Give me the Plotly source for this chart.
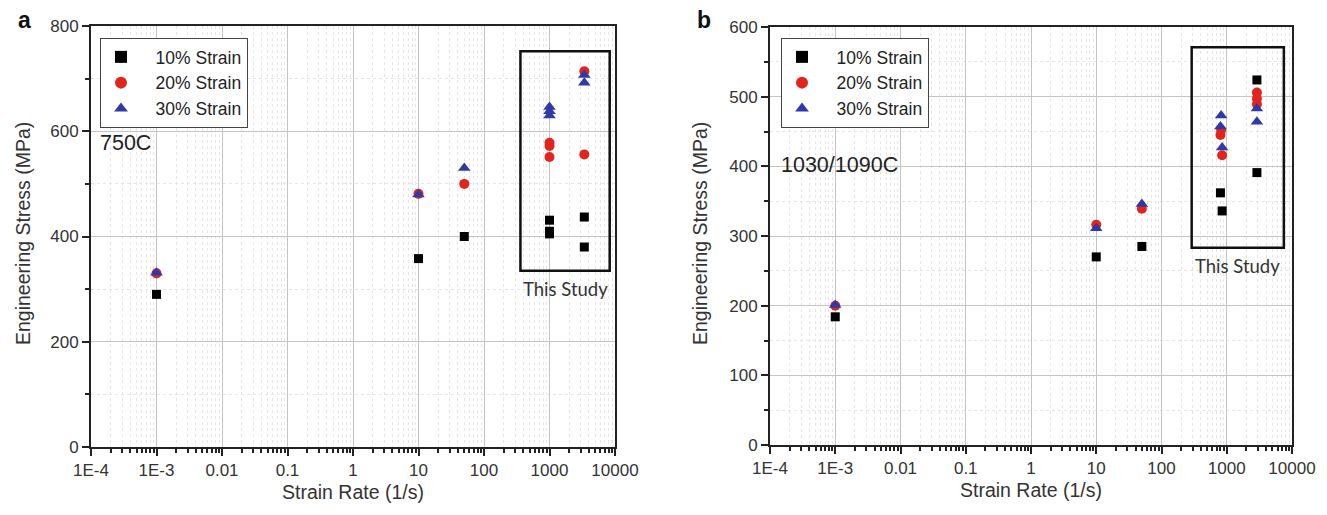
import plotly.graph_objects as go
import math

# ---------------- data ----------------
# Panel a (750C)
a_rate_10 = [1e-3, 10, 50, 1000, 1000, 1000, 3400, 3400]
a_stress_10 = [290, 358, 400, 431, 410, 405, 437, 380]
a_rate_20 = [1e-3, 10, 50, 1000, 1000, 1000, 3400, 3400]
a_stress_20 = [330, 481, 500, 578, 572, 551, 714, 556]
a_rate_30 = [1e-3, 10, 50, 1000, 1000, 1000, 3400, 3400]
a_stress_30 = [331, 480, 530, 646, 638, 630, 707, 692]

# Panel b (1030/1090C)
b_rate_10 = [1e-3, 10, 50, 800, 850, 2900, 2900]
b_stress_10 = [184, 270, 285, 362, 336, 524, 391]
b_rate_20 = [1e-3, 10, 50, 820, 800, 850, 2900, 2900, 2900]
b_stress_20 = [200, 316, 339, 452, 445, 416, 506, 497, 489]
b_rate_30 = [1e-3, 10, 50, 820, 800, 850, 2900, 2900]
b_stress_30 = [201, 311, 346, 473, 457, 427, 483, 464]

tick_vals = [1e-4, 1e-3, 0.01, 0.1, 1, 10, 100, 1000, 10000]
tick_text = ["1E-4", "1E-3", "0.01", "0.1", "1", "10", "100", "1000", "10000"]

series_names = ["10% Strain", "20% Strain", "30% Strain"]
colors = ["#000000", "#e3241d", "#2f3aa8"]
symbols = ["square", "circle", "triangle-up"]
sizes = [9, 10, 11]

FONT = "Liberation Sans, Arial, sans-serif"
NB = "\u00a0\u00a0\u00a0"

fig = go.Figure()

panels = [
    ("x", "y", [(a_rate_10, a_stress_10), (a_rate_20, a_stress_20), (a_rate_30, a_stress_30)], "legend"),
    ("x2", "y2", [(b_rate_10, b_stress_10), (b_rate_20, b_stress_20), (b_rate_30, b_stress_30)], "legend2"),
]
for xa, ya, series, leg in panels:
    for i, (xs, ys) in enumerate(series):
        fig.add_trace(go.Scatter(
            x=xs, y=ys, mode="markers", name=NB + series_names[i],
            xaxis=xa, yaxis=ya, legend=leg,
            marker=dict(symbol=symbols[i], color=colors[i], size=sizes[i], line=dict(width=0)),
        ))

W, H = 1327, 515
def fx(p): return p / W
def fy(p): return 1 - p / H

def xaxis_cfg(x0, x1, anchor):
    return dict(
        type="log", range=[-4, 4], domain=[fx(x0), fx(x1)], anchor=anchor,
        automargin=False,
        tickvals=tick_vals, ticktext=tick_text,
        ticks="outside", ticklen=7, tickwidth=1.5, tickcolor="#222",
        showline=True, linecolor="#222", linewidth=2, mirror=True,
        showgrid=True, gridcolor="#c4c4c4", gridwidth=1,
        minor=dict(dtick="D1", ticks="outside", ticklen=4, tickcolor="#222",
                   showgrid=True, gridcolor="#e6e6e6", griddash="dot"),
        tickfont=dict(family=FONT, size=17, color="#333"),
        title=dict(text="Strain Rate (1/s)", font=dict(family=FONT, size=19.5, color="#333"), standoff=6),
        zeroline=False,
    )

def yaxis_cfg(y0, y1, anchor, rng, dt):
    return dict(
        range=rng, domain=[fy(y1), fy(y0)], anchor=anchor,
        automargin=False,
        dtick=dt, tick0=0,
        ticks="outside", ticklen=7, tickwidth=1.5, tickcolor="#222",
        showline=True, linecolor="#222", linewidth=2, mirror=True,
        showgrid=True, gridcolor="#c4c4c4", gridwidth=1,
        minor=dict(dtick=dt / 2, ticks="outside", ticklen=4, tickcolor="#222",
                   showgrid=True, gridcolor="#e6e6e6", griddash="dot"),
        tickfont=dict(family=FONT, size=17, color="#333"),
        zeroline=False,
    )

legend_style = dict(
    bgcolor="white", bordercolor="#444", borderwidth=1,
    font=dict(family=FONT, size=17.5, color="#222"),
    xanchor="left", yanchor="top", tracegroupgap=0, itemsizing="constant",
)

fig.update_layout(
    width=W, height=H,
    margin=dict(l=0, r=0, t=0, b=0, autoexpand=False),
    paper_bgcolor="white", plot_bgcolor="white",
    xaxis=xaxis_cfg(91, 615, "y"),
    yaxis=yaxis_cfg(26, 447, "x", [0, 800], 200),
    xaxis2=xaxis_cfg(770, 1292, "y2"),
    yaxis2=yaxis_cfg(27, 445, "x2", [0, 600], 100),
    legend=dict(x=fx(100), y=fy(38), **legend_style),
    legend2=dict(x=fx(781), y=fy(38), **legend_style),
    showlegend=True,
)

# y-axis titles placed as rotated annotations
ytitle_font = dict(family=FONT, size=19.5, color="#333")
fig.add_annotation(x=fx(23), y=fy(234), xref="paper", yref="paper",
                   text="Engineering Stress (MPa)", textangle=-90, showarrow=False,
                   xanchor="center", yanchor="middle", font=ytitle_font)
fig.add_annotation(x=fx(700), y=fy(234), xref="paper", yref="paper",
                   text="Engineering Stress (MPa)", textangle=-90, showarrow=False,
                   xanchor="center", yanchor="middle", font=ytitle_font)

# "This Study" boxes (shape coordinates are data values on the log axis)
fig.add_shape(type="rect", xref="x", yref="y",
              x0=360, x1=8300, y0=335, y1=752,
              line=dict(color="#111", width=2.5), fillcolor="rgba(0,0,0,0)")
fig.add_shape(type="rect", xref="x2", yref="y2",
              x0=290, x1=7500, y0=283, y1=571,
              line=dict(color="#111", width=2.5), fillcolor="rgba(0,0,0,0)")

ann_font_small = dict(family="Lato, Open Sans, sans-serif", size=18.5, color="#333")
fig.add_annotation(x=math.log10(1750), y=335, xref="x", yref="y", text="This Study",
                   showarrow=False, yanchor="top", yshift=-5, font=ann_font_small)
fig.add_annotation(x=math.log10(1480), y=283, xref="x2", yref="y2", text="This Study",
                   showarrow=False, yanchor="top", yshift=-5, font=ann_font_small)

fig.add_annotation(x=fx(98), y=fy(143), xref="paper", yref="paper", text="750C",
                   showarrow=False, xanchor="left", yanchor="middle",
                   font=dict(family=FONT, size=21.5, color="#222"))
fig.add_annotation(x=fx(779), y=fy(165), xref="paper", yref="paper", text="1030/1090C",
                   showarrow=False, xanchor="left", yanchor="middle",
                   font=dict(family=FONT, size=21.5, color="#222"))

fig.add_annotation(x=fx(24), y=fy(20), xref="paper", yref="paper", text="<b>a</b>",
                   showarrow=False, xanchor="center", yanchor="middle",
                   font=dict(family=FONT, size=23, color="#111"))
fig.add_annotation(x=fx(704), y=fy(20), xref="paper", yref="paper", text="<b>b</b>",
                   showarrow=False, xanchor="center", yanchor="middle",
                   font=dict(family=FONT, size=23, color="#111"))

fig.write_html("out.html", config={"displayModeBar": False},
               post_script="document.body.style.margin='0';document.body.style.overflow='hidden';")
